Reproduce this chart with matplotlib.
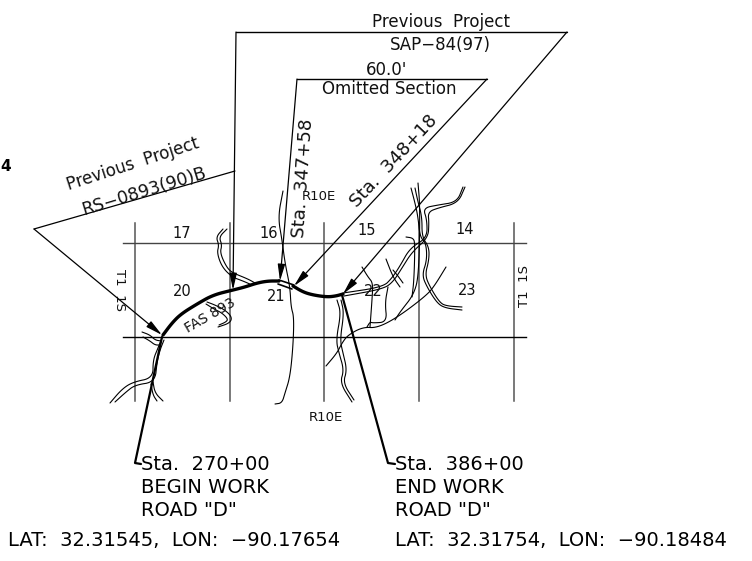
import matplotlib
matplotlib.use('Agg')
from matplotlib import pyplot as plt

# everything is in picture pixels, y going down
grid_x = [135, 230, 324, 419, 514]
grid_y = [243, 337]
grid_top, grid_bottom = 223, 401
grid_left, grid_right = 123, 526

road_a = [(163, 335), (172, 323), (181, 314), (197, 304), (213, 295), (233, 290),
          (245, 287), (257, 283), (268, 281), (279, 281)]
road_b = [(293, 286), (303, 292), (313, 295), (327, 297), (336, 296), (343, 294)]
omitted_top = [(279, 280), (294, 285)]
omitted_bot = [(278, 284), (292, 289)]
begin_leader = [(162, 337), (135, 463), (141, 464)]
end_leader = [(342, 295), (388, 463), (395, 464)]

box_outer = [(233, 290), (236, 32), (567, 32), (343, 294)]
box_inner = [(280, 281), (297, 79), (487, 79), (294, 286)]
box_left = [(235, 171), (34, 229), (162, 335)]

double_streams = [
    [(110, 403), (122, 389), (133, 382), (153, 378), (153, 360), (158, 348), (162, 338)],
    [(115, 402), (126, 392), (135, 385), (155, 382), (157, 362), (160, 350), (164, 340)],
    [(153, 382), (155, 393), (163, 401)],
    [(151, 384), (153, 395), (157, 401)],
    [(142, 332), (150, 335), (155, 340), (161, 341)],
    [(143, 337), (150, 341), (155, 345), (160, 345)],
    [(227, 229), (219, 237), (222, 245), (220, 253), (227, 268), (233, 273), (248, 279), (255, 283)],
    [(223, 229), (216, 237), (219, 245), (217, 253), (222, 267), (232, 277), (243, 281), (252, 285)],
    [(207, 302), (215, 305), (225, 310), (232, 317), (230, 323), (218, 327)],
    [(206, 304), (214, 309), (222, 313), (228, 319), (226, 322), (219, 325)],
    [(337, 300), (341, 313), (336, 340), (339, 353), (344, 370), (340, 383), (352, 402)],
    [(341, 300), (344, 313), (340, 340), (343, 353), (347, 370), (343, 383), (354, 400)],
    [(463, 187), (457, 202), (438, 205), (423, 208), (427, 220), (427, 238), (410, 248),
     (400, 266), (392, 278), (383, 287), (343, 293)],
    [(465, 187), (458, 203), (438, 208), (428, 212), (429, 223), (428, 238), (412, 252),
     (402, 268), (393, 282), (383, 289), (344, 296)],
    [(411, 188), (415, 203), (418, 217), (420, 237), (426, 243), (427, 260), (422, 275),
     (427, 287), (437, 303), (445, 308), (462, 310)],
    [(415, 188), (418, 202), (422, 217), (422, 237), (429, 247), (429, 260), (425, 275),
     (430, 287), (440, 303), (447, 306), (462, 307)],
    [(386, 259), (393, 277), (400, 287)],
    [(393, 270), (398, 276), (403, 283)],
]
thin_streams = [
    [(283, 191), (278, 217), (282, 240), (285, 263), (290, 287), (291, 307), (294, 317),
     (293, 347), (290, 377), (285, 393), (282, 403), (275, 404)],
    [(418, 183), (420, 207), (419, 270), (415, 293), (400, 312), (395, 320)],
    [(406, 237), (413, 238), (415, 243), (414, 280), (412, 297)],
    [(446, 267), (435, 285), (427, 295), (398, 317), (377, 328), (363, 327), (348, 335),
     (342, 343), (337, 353), (326, 366)],
    [(362, 267), (368, 277), (373, 283), (372, 300), (370, 327)],
    [(388, 287), (385, 303), (387, 322), (373, 323), (370, 322), (367, 327)],
]

section_labels = ['17', '16', '15', '14', '20', '21', '22', '23']
section_pos = [(182, 233), (269, 233), (367, 230), (465, 229),
               (182, 291), (276, 296), (373, 291), (467, 290)]

top_labels = ['Previous  Project', 'SAP\u221284(97)', "60.0'", 'Omitted Section']
top_pos = [(441, 22), (440, 45), (387, 70), (389, 89)]
rot_labels = ['Previous  Project', 'RS\u22120893(90)B', 'Sta.  347+58', 'Sta.  348+18', 'FAS 893']
rot_pos = [(133, 164), (144, 191), (303, 178), (394, 161), (210, 316)]
rot_angle = [18, 17, 86, 47, 30]
rot_size = [12, 12.5, 13, 13, 10]
begin_lines = ['Sta.  270+00', 'BEGIN WORK', 'ROAD "D"', 'LAT:  32.31545,  LON:  \u221290.17654']
end_lines = ['Sta.  386+00', 'END WORK', 'ROAD "D"', 'LAT:  32.31754,  LON:  \u221290.18484']
begin_pos = [(141, 464), (141, 487), (141, 510), (8, 541)]
end_pos = [(395, 464), (395, 487), (395, 510), (395, 541)]
small_labels = ['R10E', 'R10E', 'T1  1S', 'T1  1S']
small_pos = [(319, 196), (326, 417), (120, 290), (525, 286)]
small_angle = [0, 0, 270, 90]


def smooth(pts, rounds=3):
    # corner cutting so the hand read waypoints look like drawn curves
    for _ in range(rounds):
        new = [pts[0]]
        for a, b in zip(pts[:-1], pts[1:]):
            new.append((0.75*a[0] + 0.25*b[0], 0.75*a[1] + 0.25*b[1]))
            new.append((0.25*a[0] + 0.75*b[0], 0.25*a[1] + 0.75*b[1]))
        new.append(pts[-1])
        pts = new
    return pts


def path(ax, pts, lw=1.0, color='black'):
    ax.plot([p[0] for p in pts], [p[1] for p in pts], color=color, lw=lw,
            solid_joinstyle='round', solid_capstyle='round')


fig = plt.figure(figsize=(7.52, 5.61), dpi=100)
ax = fig.add_axes([0, 0, 1, 1])
ax.set_xlim(0, 752)
ax.set_ylim(561, 0)
ax.axis('off')

for x in grid_x:
    ax.plot([x, x], [grid_top, grid_bottom], color='#555555', lw=1.1)
ax.plot([grid_left, grid_right], [grid_y[0], grid_y[0]], color='#444444', lw=1.0)
ax.plot([grid_left, grid_right], [grid_y[1], grid_y[1]], color='black', lw=1.0)

for s in double_streams:
    path(ax, smooth(s), lw=0.8)
for s in thin_streams:
    path(ax, smooth(s), lw=0.8)

path(ax, box_outer[1:3], lw=1.0)
path(ax, box_inner[1:3], lw=1.0)
path(ax, box_left[:2], lw=0.9)
for tail, tip in [(box_outer[1], box_outer[0]), (box_outer[2], box_outer[3]),
                  (box_inner[1], box_inner[0]), (box_inner[2], box_inner[3]),
                  (box_left[1], box_left[2])]:
    ax.annotate('', xy=tip, xytext=tail,
                arrowprops=dict(arrowstyle='-|>,head_length=1.0,head_width=0.22',
                                color='black', lw=0.9, shrinkA=0, shrinkB=0,
                                mutation_scale=10))

path(ax, smooth(road_a), lw=2.4)
path(ax, smooth(road_b), lw=2.4)
path(ax, omitted_top, lw=1.2)
path(ax, omitted_bot, lw=1.2)
path(ax, begin_leader, lw=1.6)
path(ax, end_leader, lw=1.6)

for t, p in zip(section_labels, section_pos):
    ax.text(p[0], p[1], t, fontsize=10.5, ha='center', va='center', color='#111111')
for t, p in zip(top_labels, top_pos):
    ax.text(p[0], p[1], t, fontsize=12, ha='center', va='center', color='#111111')
for t, p, a, z in zip(rot_labels, rot_pos, rot_angle, rot_size):
    ax.text(p[0], p[1], t, fontsize=z, ha='center', va='center',
            rotation=a, rotation_mode='anchor', color='#111111')
for t, p in zip(begin_lines, begin_pos):
    ax.text(p[0], p[1], t, fontsize=14, ha='left', va='center', color='black')
for t, p in zip(end_lines, end_pos):
    ax.text(p[0], p[1], t, fontsize=14, ha='left', va='center', color='black')
for t, p, a in zip(small_labels, small_pos, small_angle):
    ax.text(p[0], p[1], t, fontsize=9.5, ha='center', va='center', rotation=a,
            rotation_mode='anchor', color='#111111')
ax.text(0, 166, '4', fontsize=11, fontweight='bold', ha='left', va='center')

fig.savefig('out.png', dpi=100)
